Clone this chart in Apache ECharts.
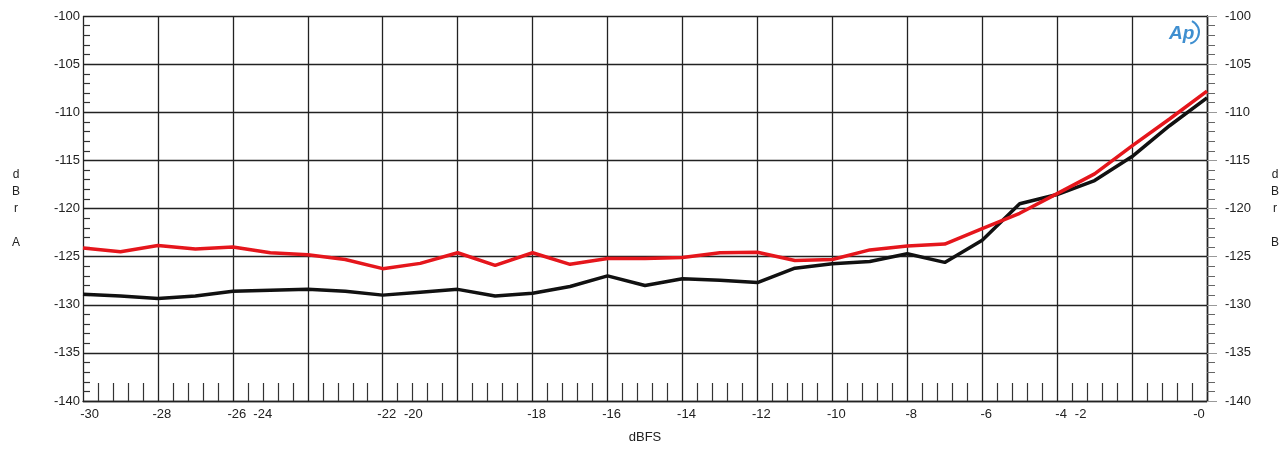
<!DOCTYPE html>
<html><head><meta charset="utf-8">
<script src="https://cdn.jsdelivr.net/npm/echarts@6/dist/echarts.min.js"></script>
<style>html,body{margin:0;padding:0;background:#fff}#c{width:1287px;height:449px}</style>
</head><body><div id="c"></div>
<script>
// Input level (dBFS)
const levels = [-30,-29,-28,-27,-26,-25,-24,-23,-22,-21,-20,-19,-18,-17,-16,-15,-14,-13,-12,-11,-10,-9,-8,-7,-6,-5,-4,-3,-2,-1,0];
// Channel A (black), dBrA
const chA = [-128.9,-129.1,-129.35,-129.1,-128.6,-128.5,-128.4,-128.6,-129.0,-128.7,-128.4,
             -129.1,-128.8,-128.1,-127.0,-128.0,-127.3,-127.45,-127.7,-126.2,-125.75,
             -125.5,-124.7,-125.6,-123.3,-119.5,-118.55,-117.1,-114.6,-111.4,-108.5];
// Channel B (red), dBrB
const chB = [-124.1,-124.5,-123.85,-124.2,-124.0,-124.6,-124.8,-125.3,-126.25,-125.7,-124.6,
             -125.9,-124.6,-125.8,-125.2,-125.2,-125.1,-124.6,-124.55,-125.4,-125.3,
             -124.3,-123.9,-123.7,-122.1,-120.5,-118.45,-116.4,-113.5,-110.7,-107.8];
// X tick labels as printed (position, text)
const xLabelPos  = [-29.93,-28,-26,-25.31,-22,-21.29,-18,-16,-14,-12,-10,-8,-6,-4,-3.48,-0.32];
const xLabelText = ['-30','-28','-26','-24','-22','-20','-18','-16','-14','-12','-10','-8','-6','-4','-2','-0'];

const FONT = 'Liberation Sans, Arial, sans-serif';
const lineC = '#222';
const GRID = {left:83, right:80, top:16, bottom:45};
const plotW = 1287 - GRID.left - GRID.right;

function xFmt(v){
  let best = 0, bd = 1e9;
  for (let i=0;i<xLabelPos.length;i++){ const d=Math.abs(xLabelPos[i]-v); if(d<bd){bd=d;best=i;} }
  return xLabelText[best];
}

const chart = echarts.init(document.getElementById('c'), null, {renderer:'canvas'});
chart.setOption({
  animation:false,
  backgroundColor:'#fff',
  grid:Object.assign({containLabel:false}, GRID),
  xAxis:{
    type:'value', min:-30, max:0, interval:2,
    axisLine:{show:true, lineStyle:{color:lineC, width:1.3}},
    axisTick:{show:false, inside:true},
    minorTick:{show:true, splitNumber:5, length:18, lineStyle:{color:'#333', width:1.2}},
    splitLine:{show:true, lineStyle:{color:lineC, width:1.3}},
    axisLabel:{customValues:xLabelPos, formatter:xFmt, margin:7, padding:[0,0,0,8],
               fontSize:13, color:'#222', fontFamily:FONT},
    name:'dBFS', nameLocation:'middle', nameGap:30,
    nameTextStyle:{fontSize:13, color:'#222', fontFamily:FONT}
  },
  yAxis:[{
    type:'value', min:-140, max:-100, interval:5, position:'left',
    axisLine:{show:true, lineStyle:{color:lineC, width:1.3}},
    axisTick:{show:false, inside:true, length:7},
    minorTick:{show:false},
    splitLine:{show:true, lineStyle:{color:lineC, width:1.3}},
    axisLabel:{margin:3, fontSize:13, color:'#222', fontFamily:FONT},
    name:'d\nB\nr\n\nA', nameLocation:'middle', nameRotate:0, nameGap:67,
    nameTextStyle:{fontSize:12, color:'#222', fontFamily:FONT, align:'center', verticalAlign:'middle', lineHeight:17}
  },{
    type:'value', min:-140, max:-100, interval:5, position:'right',
    axisLine:{show:true, lineStyle:{color:lineC, width:1.3}},
    axisTick:{show:true, inside:false, length:10, lineStyle:{color:'#999', width:1}},
    minorTick:{show:true, splitNumber:5, length:8, lineStyle:{color:'#666', width:1}},
    splitLine:{show:false},
    axisLabel:{margin:18, fontSize:13, color:'#222', fontFamily:FONT},
    name:'d\nB\nr\n\nB', nameLocation:'middle', nameRotate:0, nameGap:68,
    nameTextStyle:{fontSize:12, color:'#222', fontFamily:FONT, align:'center', verticalAlign:'middle', lineHeight:17}
  },{
    // inward minor ticks along the left edge
    type:'value', min:-140, max:-100, interval:5, position:'right', offset:-plotW,
    axisLine:{show:false}, axisTick:{show:false}, axisLabel:{show:false}, splitLine:{show:false},
    minorTick:{show:true, splitNumber:5, length:7, lineStyle:{color:'#333', width:1.2}}
  }],
  graphic:[
    {type:'text', left:1169, top:24, z:100,
     style:{text:'Ap', font:'italic bold 19px '+FONT, fill:'#3f8fd0'}},
    {type:'arc', z:100, shape:{cx:1187, cy:32, r:12, startAngle:-1.15, endAngle:1.3},
     style:{stroke:'#3f8fd0', lineWidth:2, fill:null}}
  ],
  series:[
    {type:'line', name:'A', yAxisIndex:0, showSymbol:false, silent:true,
     lineStyle:{color:'#111', width:3.5}, itemStyle:{color:'#111'},
     data: levels.map((x,i)=>[x, chA[i]])},
    {type:'line', name:'B', yAxisIndex:0, showSymbol:false, silent:true,
     lineStyle:{color:'#e5161c', width:3.5}, itemStyle:{color:'#e5161c'},
     data: levels.map((x,i)=>[x, chB[i]])}
  ]
});
</script>
</body></html>
